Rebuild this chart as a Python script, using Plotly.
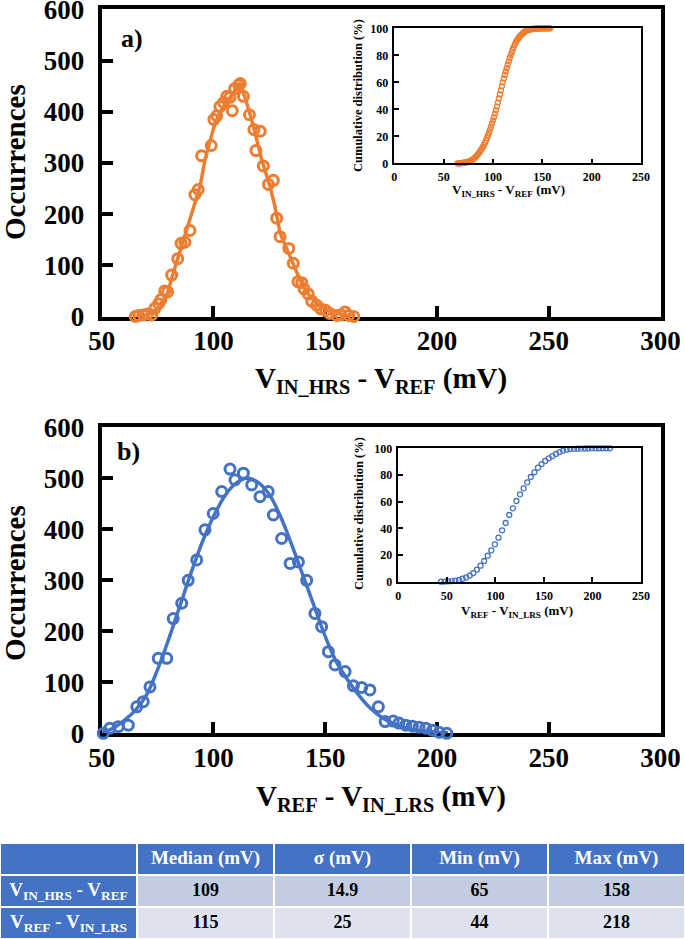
import plotly.graph_objects as go

ORANGE = "#ED7D31"
BLUE = "#4472C4"
ROW1 = "#C3CCE1"
ROW2 = "#DEE2EE"
FONT = "Liberation Serif"

# ---------------- Panel a) histogram (V_IN_HRS - V_REF) ----------------
a_x = [65.0, 66.5, 68.6, 70.5, 72.4, 73.8, 75.5, 76.5, 78.2, 79.5, 81.3, 84.0, 85.5, 87.2,
       89.5, 91.7, 93.2, 94.7, 99.0, 100.2, 101.5, 102.9, 104.5, 106.0, 107.4, 108.4, 109.5,
       111.3, 112.0, 113.4, 116.1, 118.1, 119.0, 120.9, 122.3, 124.6, 126.8, 128.3, 129.8,
       133.7, 135.7, 137.8, 139.5, 140.5, 142.4, 144.0, 146.2, 148.0, 150.2, 152.0, 155.1,
       157.0, 158.9, 160.5, 162.8]
a_y = [0, 2, 3, 5, 3, 16, 25, 33, 50, 48, 81, 113, 143, 145,
       168, 238, 248, 314, 334, 385, 392, 410, 418, 430, 428, 402, 445,
       452, 455, 430, 394, 365, 324, 362, 294, 258, 266, 192, 156,
       133, 104, 68, 66, 54, 44, 30, 22, 15, 12, 6, 2,
       3, 9, 2, 0]
a_fit_x = [65, 70, 75, 79.4, 82, 89.5, 94, 96.2, 100.7, 104.4, 108.9, 111.9, 114.9, 117.9,
           121.6, 125.3, 127.5, 129.8, 134.3, 138.8, 143.2, 147.7, 153.6, 162.6]
a_fit_y = [0, 2, 15, 45, 85, 189, 254, 306, 378, 410, 436, 456, 417, 371,
           306, 254, 215, 163, 117, 71, 39, 19, 7, 0]

# inset a) cumulative distribution (%)
a_cdf_x = [64, 65, 66, 67, 68, 69, 70, 71, 72, 73, 74, 75, 76, 77, 78, 79, 80, 81, 82, 83,
           84, 85, 86, 87, 88, 89, 90, 91, 92, 93, 94, 95, 96, 97, 98, 99, 100, 101, 102, 103,
           104, 105, 106, 107, 108, 109, 110, 111, 112, 113, 114, 115, 116, 117, 118, 119, 120,
           121, 122, 123, 124, 125, 126, 127, 128, 129, 130, 131, 132, 133, 134, 135, 136, 137,
           138, 139, 140, 141, 142, 143, 144, 145, 146, 147, 148, 149, 150, 151, 152, 153, 154,
           155, 156, 157, 158]
a_cdf_y = [0, 0, 0, 0.1, 0.2, 0.3, 0.4, 0.5, 0.6, 0.8, 1.0, 1.2, 1.5, 1.8, 2.1, 2.5, 3.0, 3.7, 4.4, 5.1,
           5.9, 6.8, 7.8, 8.9, 10.0, 11.2, 12.5, 13.8, 15.3, 17.0, 18.8, 20.8, 22.8, 25.0, 27.2, 29.5, 31.8, 34.2, 36.8, 39.4,
           42.0, 45.0, 48.0, 51.0, 54.0, 57.0, 60.0, 62.8, 65.5, 68.0, 70.5, 73.0, 75.5, 78.0, 80.2, 82.3, 84.3,
           86.1, 87.8, 89.3, 90.6, 91.8, 92.9, 93.9, 94.7, 95.5, 96.2, 96.8, 97.3, 97.8, 98.2, 98.5, 98.8, 99.0,
           99.2, 99.35, 99.5, 99.6, 99.7, 99.75, 99.8, 99.85, 99.9, 99.92, 99.94, 99.95, 99.96, 99.97, 99.98, 99.99, 100,
           100, 100, 100, 100]

# ---------------- Panel b) histogram (V_REF - V_IN_LRS) ----------------
b_x = [50.7, 53.7, 57.4, 61.9, 65.7, 68.6, 71.6, 75.3, 79.1, 82.0, 85.8, 88.7, 92.5, 96.2,
       99.9, 103.7, 107.4, 109.6, 113.4, 117.1, 120.8, 124.5, 126.8, 130.5, 134.3, 138.0,
       141.7, 145.4, 148.4, 151.4, 154.4, 158.9, 162.6, 166.3, 170.0, 173.8, 176.8, 180.4,
       183.0, 186.0, 189.0, 192.0, 195.0, 198.0, 201.0, 204.4]
b_y = [0, 10, 13, 16, 52, 62, 91, 147, 147, 225, 255, 300, 340, 399,
       431, 474, 518, 497, 510, 487, 464, 474, 428, 382, 333, 336,
       300, 235, 209, 160, 134, 121, 93, 90, 85, 52, 23, 24,
       20, 16, 14, 12, 10, 6, 2, 0]
b_fit_x = [50, 55, 60, 65, 70, 75, 80, 85, 90, 95, 100, 105, 110, 115, 120, 125, 130, 135,
           140, 145, 150, 155, 160, 165, 170, 175, 180, 185, 190, 195, 200, 205]
b_fit_y = [2, 10, 25, 45, 75, 125, 185, 250, 315, 375, 425, 465, 490, 500, 492, 468, 425, 370,
           310, 250, 190, 140, 105, 75, 50, 32, 20, 12, 7, 4, 2, 1]

# inset b) cumulative distribution (%)
b_cdf_x = [44.0, 47.7, 51.4, 55.1, 58.8, 62.5, 66.2, 69.9, 73.6, 77.3, 81.0, 84.7, 88.4, 92.1,
           95.8, 99.5, 103.2, 106.9, 110.6, 114.3, 118.0, 121.7, 125.4, 129.1, 132.8, 136.5,
           140.2, 143.9, 147.6, 151.3, 155.0, 158.7, 162.4, 166.1, 169.8, 173.5, 177.2, 180.9,
           184.6, 188.3, 192.0, 195.7, 199.4, 203.1, 206.8, 210.5, 214.2, 217.9]
b_cdf_y = [0, 0.1, 0.3, 0.5, 0.8, 1.3, 2.2, 3.2, 4.6, 6.5, 9, 12, 15.5, 19.5,
           23.5, 28, 33, 38.5, 44, 50, 55, 60.5, 65.5, 70, 74.5, 78.5,
           82, 85.5, 88.2, 90.5, 92.5, 94.2, 95.8, 97.2, 98.3, 99.0, 99.4, 99.6,
           99.7, 99.8, 99.85, 99.9, 99.95, 99.97, 100, 100, 100, 100]

# ---------------- Summary table ----------------
tbl_header = ["", "Median (mV)", "σ (mV)", "Min (mV)", "Max (mV)"]
tbl_rows = ["V<sub>IN_HRS</sub> - V<sub>REF</sub>", "V<sub>REF</sub> - V<sub>IN_LRS</sub>"]
tbl_median = ["109", "115"]
tbl_sigma = ["14.9", "25"]
tbl_min = ["65", "44"]
tbl_max = ["158", "218"]

W, H = 685, 939


def fx(p):
    return p / W


def fy(p):
    return 1 - p / H


fig = go.Figure()

# panel a
fig.add_trace(go.Scatter(x=a_fit_x, y=a_fit_y, mode="lines", line=dict(color=ORANGE, width=3.5),
                         xaxis="x", yaxis="y", cliponaxis=False, showlegend=False, hoverinfo="skip"))
fig.add_trace(go.Scatter(x=a_x, y=a_y, mode="markers",
                         marker=dict(symbol="circle-open", size=10, color=ORANGE,
                                     line=dict(width=3, color=ORANGE)),
                         xaxis="x", yaxis="y", cliponaxis=False, showlegend=False))
fig.add_trace(go.Scatter(x=a_cdf_x, y=a_cdf_y, mode="markers",
                         marker=dict(symbol="circle-open", size=5, color=ORANGE,
                                     line=dict(width=1.3, color=ORANGE)),
                         xaxis="x2", yaxis="y2", cliponaxis=False, showlegend=False))
# panel b
fig.add_trace(go.Scatter(x=b_fit_x, y=b_fit_y, mode="lines", line=dict(color=BLUE, width=3.5, shape="spline"),
                         xaxis="x3", yaxis="y3", cliponaxis=False, showlegend=False, hoverinfo="skip"))
fig.add_trace(go.Scatter(x=b_x, y=b_y, mode="markers",
                         marker=dict(symbol="circle-open", size=10, color=BLUE,
                                     line=dict(width=3, color=BLUE)),
                         xaxis="x3", yaxis="y3", cliponaxis=False, showlegend=False))
fig.add_trace(go.Scatter(x=b_cdf_x, y=b_cdf_y, mode="markers",
                         marker=dict(symbol="circle-open", size=5, color=BLUE,
                                     line=dict(width=1.3, color=BLUE)),
                         xaxis="x4", yaxis="y4", cliponaxis=False, showlegend=False))

# ---------------- table: heatmap cells + text ----------------
tbl_body = [tbl_median, tbl_sigma, tbl_min, tbl_max]
n_cols = len(tbl_header)
n_rows = 1 + len(tbl_rows)
# colour class: 0 = blue (header / label column), 1 = first body row, 2 = second body row
cell_class = [[0] * n_cols] + [[0] + [r + 1] * (n_cols - 1) for r in range(len(tbl_rows))]
fig.add_trace(go.Heatmap(
    z=cell_class, x=list(range(n_cols)), y=list(range(n_rows)),
    colorscale=[[0, BLUE], [0.5, ROW1], [1, ROW2]], zmin=0, zmax=2,
    showscale=False, xgap=2, ygap=2, hoverinfo="skip",
    xaxis="x5", yaxis="y5"))

t_x, t_y, t_txt, t_col, t_size = [], [], [], [], []
for c, h in enumerate(tbl_header):
    if h:
        t_x.append(c); t_y.append(0); t_txt.append(f"<b>{h}</b>"); t_col.append("white"); t_size.append(19)
for r, lab in enumerate(tbl_rows):
    t_x.append(0); t_y.append(r + 1); t_txt.append(f"<b>{lab}</b>"); t_col.append("white"); t_size.append(19)
    for c, col in enumerate(tbl_body):
        t_x.append(c + 1); t_y.append(r + 1); t_txt.append(f"<b>{col[r]}</b>"); t_col.append("black"); t_size.append(18)
fig.add_trace(go.Scatter(x=t_x, y=t_y, mode="text", text=t_txt, textposition="middle center",
                         textfont=dict(family=FONT, size=t_size, color=t_col),
                         xaxis="x5", yaxis="y5", showlegend=False, hoverinfo="skip", cliponaxis=False))


def main_x(dom):
    return dict(domain=dom, range=[50, 300], tickvals=[50, 100, 150, 200, 250, 300],
                showline=True, linewidth=4, linecolor="black", mirror=True,
                ticks="inside", ticklen=11, tickwidth=4, tickcolor="black",
                showgrid=False, zeroline=False, layer="below traces", automargin=False,
                ticklabeloverflow="allow",
                tickfont=dict(family=FONT, size=27, color="black", weight="bold"),
                ticklabelstandoff=-3)


def main_y(dom, anchor):
    return dict(domain=dom, range=[0, 600], tickvals=[0, 100, 200, 300, 400, 500, 600],
                showline=True, linewidth=4, linecolor="black", mirror=True,
                ticks="inside", ticklen=11, tickwidth=4, tickcolor="black",
                showgrid=False, zeroline=False, anchor=anchor, layer="below traces",
                automargin=False, ticklabeloverflow="allow",
                tickfont=dict(family=FONT, size=27, color="black", weight="bold"),
                ticklabelstandoff=8)


def inset_x(dom, anchor):
    return dict(domain=dom, range=[0, 250], tickvals=[0, 50, 100, 150, 200, 250],
                showline=True, linewidth=1.5, linecolor="black", mirror=True,
                ticks="inside", ticklen=5, tickwidth=1.5, tickcolor="black",
                showgrid=False, zeroline=False, anchor=anchor, automargin=False,
                ticklabeloverflow="allow",
                tickfont=dict(family=FONT, size=12, color="black", weight="bold"),
                ticklabelstandoff=2)


def inset_y(dom, anchor):
    return dict(domain=dom, range=[0, 100], tickvals=[0, 20, 40, 60, 80, 100],
                showline=True, linewidth=1.5, linecolor="black", mirror=True,
                ticks="inside", ticklen=5, tickwidth=1.5, tickcolor="black",
                showgrid=False, zeroline=False, anchor=anchor, automargin=False,
                ticklabeloverflow="allow",
                tickfont=dict(family=FONT, size=12, color="black", weight="bold"),
                ticklabelstandoff=2)


fig.update_layout(
    width=W, height=H, autosize=False,
    margin=dict(l=0, r=0, t=0, b=0, autoexpand=False),
    paper_bgcolor="white", plot_bgcolor="rgba(0,0,0,0)",
    xaxis=dict(main_x([fx(101.7), fx(660.5)]), anchor="y"),
    yaxis=main_y([fy(316.5), fy(9.3)], "x"),
    xaxis2=inset_x([fx(394.3), fx(641)], "y2"),
    yaxis2=inset_y([fy(163.3), fy(28.3)], "x2"),
    xaxis3=dict(main_x([fx(101.7), fx(660.5)]), anchor="y3"),
    yaxis3=main_y([fy(733.3), fy(427.3)], "x3"),
    xaxis4=inset_x([fx(398.3), fx(641)], "y4"),
    yaxis4=inset_y([fy(581.7), fy(448.3)], "x4"),
    xaxis5=dict(domain=[0, 1], range=[-0.5, n_cols - 0.5], visible=False, anchor="y5",
                automargin=False, fixedrange=True),
    yaxis5=dict(domain=[0, fy(843)], range=[n_rows - 0.5, -0.5], visible=False, anchor="x5",
                automargin=False, fixedrange=True),
)


def ann(text, x, y, size, angle=0, xanchor="center"):
    fig.add_annotation(text=text, x=fx(x), y=fy(y), xref="paper", yref="paper",
                       showarrow=False, textangle=angle, xanchor=xanchor, yanchor="middle",
                       font=dict(family=FONT, size=size, color="black", weight="bold"))


ann("Occurrences", 15, 162, 29, angle=-90)
ann("Occurrences", 15, 583, 29, angle=-90)
ann("V<sub>IN_HRS</sub> - V<sub>REF</sub> (mV)", 381, 380, 29)
ann("V<sub>REF</sub> - V<sub>IN_LRS</sub> (mV)", 381, 798, 29)
ann("a)", 119, 38, 26, xanchor="left")
ann("b)", 115, 451, 26, xanchor="left")
ann("Cumulative distribution (%)", 358, 96, 12.5, angle=-90)
ann("Cumulative distribution (%)", 359, 514, 12.5, angle=-90)
ann("V<sub>IN_HRS</sub> - V<sub>REF</sub> (mV)", 508, 191, 13)
ann("V<sub>REF</sub> - V<sub>IN_LRS</sub> (mV)", 517, 611, 13)

fig.write_html("out.html", config={"displayModeBar": False},
               post_script="document.body.style.margin='0px';document.body.style.overflow='hidden';")
